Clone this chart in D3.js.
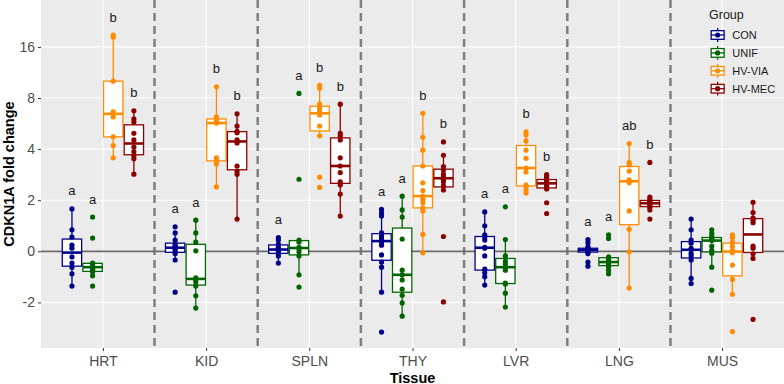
<!DOCTYPE html>
<html>
<head>
<meta charset="utf-8">
<script src="https://cdn.jsdelivr.net/npm/d3@7"></script>
<style>
  body { margin: 0; background: #fff; }
  svg { display: block; font-family: "Liberation Sans", Arial, sans-serif; }
</style>
</head>
<body>
<svg id="chart" width="784" height="384"></svg>
<script>
'use strict';
// CDKN1A fold change per tissue, one array per group (CON, UNIF, HV-VIA, HV-MEC)
// values are in axis units (log2 steps), the axis labels are given below
const tissues = ['HRT', 'KID', 'SPLN', 'THY', 'LVR', 'LNG', 'MUS'];
const groups = ['CON', 'UNIF', 'HV-VIA', 'HV-MEC'];
const colors = ['#00008B', '#006400', '#FF8C00', '#8B0000'];

const hrt = [
    [0.83, 0.42, 0.28, 0.12, 0.06, -0.11, -0.23, -0.31, -0.44, -0.68],
    [0.67, 0.26, -0.23, -0.25, -0.29, -0.33, -0.37, -0.40, -0.48, -0.68],
    [4.23, 4.19, 3.33, 2.73, 2.69, 2.63, 2.24, 2.07, 1.83],
    [2.75, 2.59, 2.53, 2.31, 2.18, 2.04, 1.95, 1.87, 1.81, 1.51]
];
const kid = [
    [0.48, 0.36, 0.22, 0.14, 0.10, 0.08, 0.06, 0.03, -0.01, -0.05, -0.17, -0.80],
    [0.61, 0.36, 0.18, 0.01, -0.52, -0.56, -0.60, -0.68, -0.87, -1.11],
    [3.22, 2.63, 2.59, 2.55, 2.51, 1.83, 1.77, 1.71, 1.26],
    [2.69, 2.45, 2.35, 2.32, 2.18, 2.12, 1.67, 1.57, 1.51, 0.63]
];
const spln = [
    [0.27, 0.22, 0.14, 0.08, 0.05, 0.02, -0.01, -0.05, -0.09, -0.23],
    [3.09, 1.41, 0.22, 0.18, 0.08, 0.05, -0.01, -0.09, -0.46, -0.70],
    [3.25, 3.19, 2.88, 2.80, 2.74, 2.70, 2.67, 2.45, 2.26, 1.45, 1.25],
    [2.88, 2.31, 2.26, 2.18, 1.83, 1.67, 1.54, 1.36, 1.30, 1.12, 0.69]
];
const thy = [
    [0.82, 0.75, 0.69, 0.36, 0.30, 0.26, 0.22, 0.18, 0.12, -0.07, -0.21, -0.31, -0.80, -1.58],
    [1.08, 0.81, 0.67, 0.24, -0.37, -0.46, -0.56, -0.74, -0.86, -1.01, -1.27],
    [2.70, 2.23, 1.98, 1.67, 1.34, 1.19, 1.08, 1.02, 0.95, 0.85, 0.79, 0.33, -0.03],
    [2.14, 1.88, 1.66, 1.59, 1.51, 1.45, 1.41, 1.36, 1.28, 1.20, 0.29, -0.99]
];
const lvr = [
    [0.77, 0.50, 0.32, 0.28, 0.22, 0.08, 0.06, -0.09, -0.35, -0.42, -0.50, -0.66],
    [0.87, 0.23, -0.09, -0.19, -0.25, -0.31, -0.37, -0.62, -0.64, -0.82, -1.09],
    [2.34, 2.28, 2.16, 1.98, 1.82, 1.63, 1.55, 1.30, 1.26, 1.20, 1.14],
    [1.50, 1.46, 1.42, 1.39, 1.36, 1.33, 1.30, 1.26, 1.22, 0.95, 0.74]
];
const lng = [
    [0.23, 0.17, 0.09, 0.06, 0.045, 0.035, 0.025, 0.015, 0.005, -0.015, -0.05, -0.21, -0.29],
    [0.32, 0.25, -0.11, -0.14, -0.17, -0.21, -0.23, -0.26, -0.30, -0.37, -0.44],
    [2.11, 1.74, 1.69, 1.57, 1.40, 1.34, 0.79, 0.43, -0.01, -0.72],
    [1.74, 1.06, 1.01, 0.98, 0.95, 0.94, 0.92, 0.89, 0.86, 0.81, 0.63]
];
const mus = [
    [0.63, 0.42, 0.22, 0.16, 0.06, 0.03, -0.04, -0.09, -0.17, -0.53, -0.63],
    [0.42, 0.35, 0.29, 0.25, 0.23, 0.21, 0.10, 0.02, -0.04, -0.31, -0.76],
    [0.32, 0.27, 0.18, 0.10, 0.02, -0.03, -0.27, -0.55, -0.84, -1.57],
    [0.96, 0.76, 0.65, 0.61, 0.56, 0.10, 0.06, -0.05, -0.14, -1.33]
];
const values = [hrt, kid, spln, thy, lvr, lng, mus];

// significance letters, same order as groups
const letters = [
    ['a', 'a', 'b', 'b'],
    ['a', 'a', 'b', 'b'],
    ['a', 'a', 'b', 'b'],
    ['a', 'a', 'b', 'b'],
    ['a', 'a', 'b', 'b'],
    ['a', 'a', 'ab', 'b'],
    ['', '', '', '']
];

const yTicks = [-1, 0, 1, 2, 3, 4];
const yLabels = ['-2', '0', '2', '4', '8', '16'];

// Frame setup
const panel = {left: 41, right: 784, top: 0, bottom: 348};
const svg = d3.select('#chart');

const x = d3.scalePoint().domain(tissues).range([panel.left, panel.right]).padding(0.6);
const step = x.step();
const dodge = d3.scaleBand().domain(groups).range([-0.4 * step, 0.4 * step]);
const boxW = 0.75 / groups.length * step;
const y = d3.scaleLinear().domain([-1.892, 4.918]).range([panel.bottom, panel.top]);

function stats(v) {
    const s = v.slice().sort(d3.ascending);
    const q1 = d3.quantileSorted(s, 0.25);
    const med = d3.quantileSorted(s, 0.5);
    const q3 = d3.quantileSorted(s, 0.75);
    const iqr = q3 - q1;
    const lo = d3.min(s.filter(d => d >= q1 - 1.5 * iqr));
    const hi = d3.max(s.filter(d => d <= q3 + 1.5 * iqr));
    return {q1, med, q3, lo, hi, max: s[s.length - 1]};
}

// panel background + grid
svg.append('rect')
    .attr('x', panel.left).attr('y', panel.top)
    .attr('width', panel.right - panel.left).attr('height', panel.bottom - panel.top)
    .attr('fill', '#EBEBEB');

svg.append('g').selectAll('line')
    .data(yTicks).join('line')
    .attr('x1', panel.left).attr('x2', panel.right)
    .attr('y1', d => y(d)).attr('y2', d => y(d))
    .attr('stroke', '#fff').attr('stroke-width', 1.1);

svg.append('g').selectAll('line')
    .data(tissues).join('line')
    .attr('x1', d => x(d)).attr('x2', d => x(d))
    .attr('y1', panel.top).attr('y2', panel.bottom)
    .attr('stroke', '#fff').attr('stroke-width', 1.1);

// dashed separators between tissues
svg.append('g').selectAll('line')
    .data(tissues.slice(0, -1)).join('line')
    .attr('x1', d => x(d) + step / 2).attr('x2', d => x(d) + step / 2)
    .attr('y1', panel.top).attr('y2', panel.bottom)
    .attr('stroke', '#7F7F7F').attr('stroke-width', 2.5)
    .attr('stroke-dasharray', '8,5');

// zero line
svg.append('line')
    .attr('x1', panel.left).attr('x2', panel.right)
    .attr('y1', y(0)).attr('y2', y(0))
    .attr('stroke', '#6B6B6B').attr('stroke-width', 1.8);

// boxes, points, letters
const plot = svg.append('g');
tissues.forEach((t, i) => {
    groups.forEach((gName, j) => {
        const v = values[i][j];
        const st = stats(v);
        const cx = x(t) + dodge(gName) + dodge.bandwidth() / 2;
        const col = colors[j];
        const g = plot.append('g');
        g.append('line')
            .attr('x1', cx).attr('x2', cx)
            .attr('y1', y(st.hi)).attr('y2', y(st.q3))
            .attr('stroke', col).attr('stroke-width', 1.3);
        g.append('line')
            .attr('x1', cx).attr('x2', cx)
            .attr('y1', y(st.q1)).attr('y2', y(st.lo))
            .attr('stroke', col).attr('stroke-width', 1.3);
        g.append('rect')
            .attr('x', cx - boxW / 2).attr('width', boxW)
            .attr('y', y(st.q3)).attr('height', y(st.q1) - y(st.q3))
            .attr('fill', '#fff').attr('stroke', col).attr('stroke-width', 1.3);
        g.append('line')
            .attr('x1', cx - boxW / 2).attr('x2', cx + boxW / 2)
            .attr('y1', y(st.med)).attr('y2', y(st.med))
            .attr('stroke', col).attr('stroke-width', 2.6);
        g.selectAll('circle')
            .data(v).join('circle')
            .attr('cx', cx).attr('cy', d => y(d))
            .attr('r', 2.6).attr('fill', col);
        if (letters[i][j]) {
            g.append('text')
                .attr('x', cx).attr('y', y(st.max + 0.265))
                .attr('text-anchor', 'middle')
                .attr('font-size', 13).attr('fill', '#1A1A1A')
                .text(letters[i][j]);
        }
    });
});

// axes
const yAxis = d3.axisLeft(y).tickValues(yTicks).tickFormat((d, i) => yLabels[i])
    .tickSize(3).tickPadding(3);
svg.append('g')
    .attr('transform', `translate(${panel.left},0)`)
    .call(yAxis)
    .call(g => g.select('.domain').remove())
    .call(g => g.selectAll('line').attr('stroke', '#333'))
    .call(g => g.selectAll('text').attr('fill', '#4D4D4D').attr('font-size', 14)
        .attr('font-family', '"Liberation Sans", Arial, sans-serif'));

const xAxis = d3.axisBottom(x).tickSize(3).tickPadding(5.5);
svg.append('g')
    .attr('transform', `translate(0,${panel.bottom})`)
    .call(xAxis)
    .call(g => g.select('.domain').remove())
    .call(g => g.selectAll('line').attr('stroke', '#333'))
    .call(g => g.selectAll('text').attr('fill', '#4D4D4D').attr('font-size', 14)
        .attr('font-family', '"Liberation Sans", Arial, sans-serif'));

// axis titles
svg.append('text')
    .attr('x', (panel.left + panel.right) / 2).attr('y', 382.5)
    .attr('text-anchor', 'middle').attr('font-weight', 'bold').attr('font-size', 14.5)
    .text('Tissue');
svg.append('text')
    .attr('transform', `translate(14,${(panel.top + panel.bottom) / 2}) rotate(-90)`)
    .attr('text-anchor', 'middle').attr('font-weight', 'bold').attr('font-size', 14.5)
    .text('CDKN1A fold change');

// legend
const legend = svg.append('g').attr('transform', 'translate(709,0)');
legend.append('text')
    .attr('x', 0).attr('y', 18.5)
    .attr('font-size', 12.5).attr('fill', '#1A1A1A')
    .text('Group');
const key = 17.3;
groups.forEach((gName, j) => {
    const cy = 35 + j * 17.9;
    const kx = key / 2;
    const col = colors[j];
    const k = legend.append('g');
    k.append('line').attr('x1', kx).attr('x2', kx)
        .attr('y1', cy - 0.4 * key).attr('y2', cy + 0.4 * key)
        .attr('stroke', col).attr('stroke-width', 1.3);
    k.append('rect')
        .attr('x', kx - 0.375 * key).attr('width', 0.75 * key)
        .attr('y', cy - 0.25 * key).attr('height', 0.5 * key)
        .attr('fill', '#fff').attr('stroke', col).attr('stroke-width', 1.3);
    k.append('line').attr('x1', kx - 0.375 * key).attr('x2', kx + 0.375 * key)
        .attr('y1', cy).attr('y2', cy)
        .attr('stroke', col).attr('stroke-width', 1.3);
    k.append('circle').attr('cx', kx).attr('cy', cy).attr('r', 2.6).attr('fill', col);
    k.append('text')
        .attr('x', key + 6).attr('y', cy + 4)
        .attr('font-size', 11).attr('fill', '#1A1A1A')
        .text(gName);
});
</script>
</body>
</html>
